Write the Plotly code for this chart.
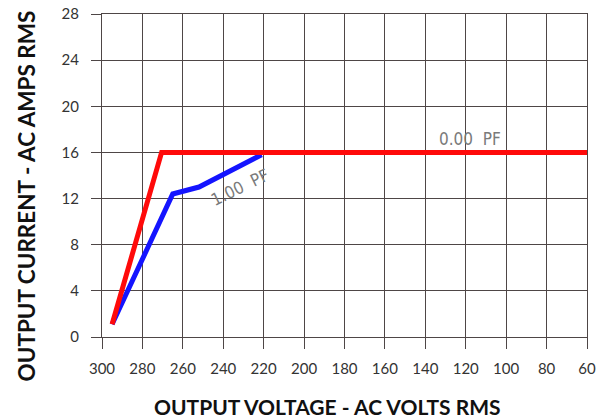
import plotly.graph_objects as go

# Data
red_volts = [295, 270.5, 60]
red_amps = [1.1, 16, 16]

blue_volts = [295, 265, 252, 240, 221]
blue_amps = [1.1, 12.4, 13.0, 14.1, 15.8]

x_ticks = [300, 280, 260, 240, 220, 200, 180, 160, 140, 120, 100, 80, 60]
y_ticks = [0, 4, 8, 12, 16, 20, 24, 28]

x_title = "OUTPUT VOLTAGE - AC VOLTS RMS"
y_title = "OUTPUT CURRENT - AC AMPS RMS"
label_0pf = "0.00  PF"
label_1pf = "1.00  PF"

grid_color = "#4e4646"
W, H = 602, 419
L, R, T, B = 102, 15, 14, 82
pw, ph = W - L - R, H - T - B

def px_to_paper(xp, yp):
    return ((xp - L) / pw, (H - B - yp) / ph)

fig = go.Figure()
fig.add_trace(go.Scatter(x=blue_volts, y=blue_amps, mode="lines",
                         line=dict(color="#1414ff", width=5), showlegend=False,
                         hoverinfo="skip"))
fig.add_trace(go.Scatter(x=red_volts, y=red_amps, mode="lines",
                         line=dict(color="#ff0a0a", width=5), showlegend=False,
                         hoverinfo="skip"))

pf_font = dict(family="Liberation Sans Narrow, DejaVu Sans Condensed, sans-serif",
               size=17, color="#7a7a7a")
fig.add_annotation(x=118, y=17.2, text=label_0pf, showarrow=False, font=pf_font)
fig.add_annotation(x=231.5, y=13.0, text=label_1pf, showarrow=False, textangle=-26,
                   font=pf_font)

tx, ty = px_to_paper(327.5, 406)
fig.add_annotation(xref="paper", yref="paper", x=tx, y=ty, text="<b>" + x_title + "</b>",
                   showarrow=False, xanchor="center", yanchor="middle",
                   font=dict(family="Lato", size=21, color="#111111"))
tx, ty = px_to_paper(26, 196.5)
fig.add_annotation(xref="paper", yref="paper", x=tx, y=ty, text="<b>" + y_title + "</b>",
                   showarrow=False, textangle=-90, xanchor="center", yanchor="middle",
                   font=dict(family="Lato", size=22.5, color="#111111"))

fig.update_xaxes(range=[300, 60], tickvals=x_ticks, automargin=False,
                 showgrid=True, gridcolor=grid_color, gridwidth=1,
                 showline=True, linecolor=grid_color, linewidth=1, mirror=True,
                 ticks="outside", ticklen=11, tickcolor=grid_color,
                 ticklabelstandoff=7, ticklabeloverflow="allow",
                 tickfont=dict(family="Lato", size=15, color="#333333"),
                 zeroline=False)
fig.update_yaxes(range=[0, 28], tickvals=y_ticks, automargin=False,
                 showgrid=True, gridcolor=grid_color, gridwidth=1,
                 showline=True, linecolor=grid_color, linewidth=1, mirror=True,
                 ticks="outside", ticklen=10, tickcolor=grid_color,
                 ticklabelstandoff=9, ticklabeloverflow="allow",
                 tickfont=dict(family="Lato", size=15, color="#333333"),
                 zeroline=False)

fig.update_layout(width=W, height=H, margin=dict(l=L, r=R, t=T, b=B),
                  plot_bgcolor="white", paper_bgcolor="white", hovermode=False)

fig.write_html("out.html", config={"displayModeBar": False},
               post_script="document.body.style.margin='0';document.body.style.overflow='hidden';")
